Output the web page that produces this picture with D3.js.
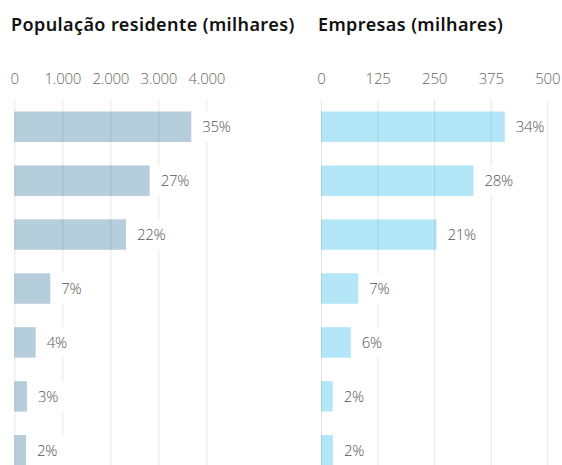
<!DOCTYPE html>
<html>
<head>
<meta charset="utf-8">
<script src="https://cdn.jsdelivr.net/npm/d3@7"></script>
<style>
  body { margin: 0; background: #fff; }
  svg { display: block; }
</style>
</head>
<body>
<div id="chart"></div>
<script>
const w = 562;
const h = 465;

// regiões (não são mostradas no gráfico)
const regions = ["Norte", "AM Lisboa", "Centro", "Alentejo", "Algarve", "RA Madeira", "RA Açores"];

const popValues = [3687, 2820, 2327, 750, 445, 264, 243];
const popLabels = ["35%", "27%", "22%", "7%", "4%", "3%", "2%"];
const popTicks = [0, 1000, 2000, 3000, 4000];

const empValues = [406, 337, 255, 82.5, 66, 26, 26.5];
const empLabels = ["34%", "28%", "21%", "7%", "6%", "2%", "2%"];
const empTicks = [0, 125, 250, 375, 500];

const fmt = d3.formatLocale({ decimal: ",", thousands: ".", grouping: [3], currency: ["", "€"] }).format(",");

const svg = d3.select("#chart")
    .append("svg")
    .attr("width", w)
    .attr("height", h);

const y = d3.scaleBand()
    .domain(regions)
    .range([111.5, 465.5])
    .paddingInner(0.435)
    .paddingOuter(0)
    .align(0);

function panel(opts) {
    const x = d3.scaleLinear()
        .domain(opts.domain)
        .range(opts.range);

    const g = svg.append("g");

    g.append("text")
        .attr("x", opts.titleX)
        .attr("y", 31)
        .attr("font-family", "Noto Sans")
        .attr("font-weight", 600)
        .attr("font-size", "18px")
        .attr("letter-spacing", "0.4px")
        .attr("fill", "#111")
        .text(opts.title);

    // bars
    g.selectAll("rect.bar")
        .data(opts.values)
        .enter()
        .append("rect")
        .attr("class", "bar")
        .attr("x", x(0))
        .attr("y", (d, i) => y(regions[i]))
        .attr("width", d => x(d) - x(0))
        .attr("height", y.bandwidth())
        .attr("fill", opts.color);

    // axis on top, gridlines drawn over the bars
    const axis = d3.axisTop(x)
        .tickValues(opts.ticks)
        .tickFormat(fmt)
        .tickSize(-(h - 100))
        .tickPadding(16);

    const ax = g.append("g")
        .attr("transform", "translate(0,100)")
        .call(axis);
    ax.select(".domain").remove();
    ax.selectAll(".tick line")
        .attr("stroke", "rgba(0,0,0,0.1)")
        .attr("stroke-width", 1);
    ax.selectAll(".tick text")
        .attr("font-family", "Open Sans")
        .attr("font-weight", 300)
        .attr("font-size", "15px")
        .attr("letter-spacing", "-0.2px")
        .attr("fill", "#666");

    // percentage labels with white background
    const lab = g.selectAll("g.lab")
        .data(opts.values)
        .enter()
        .append("g")
        .attr("class", "lab");

    lab.append("rect")
        .attr("x", d => x(d) + 4)
        .attr("y", (d, i) => y(regions[i]))
        .attr("width", 38)
        .attr("height", y.bandwidth())
        .attr("fill", "#fff");

    lab.append("text")
        .attr("x", d => x(d) + 11)
        .attr("y", (d, i) => y(regions[i]) + y.bandwidth() / 2)
        .attr("dy", "0.35em")
        .attr("font-family", "Open Sans")
        .attr("font-weight", 300)
        .attr("font-size", "15px")
        .attr("letter-spacing", "-0.3px")
        .attr("fill", "#555")
        .text((d, i) => opts.labels[i]);
}

panel({
    title: "População residente (milhares)",
    titleX: 11,
    domain: [0, 4000],
    range: [14.3, 206.3],
    ticks: popTicks,
    values: popValues,
    labels: popLabels,
    color: "#b6cddc"
});

panel({
    title: "Empresas (milhares)",
    titleX: 318,
    domain: [0, 500],
    range: [321, 547.3],
    ticks: empTicks,
    values: empValues,
    labels: empLabels,
    color: "#b3e7f8"
});
</script>
</body>
</html>
